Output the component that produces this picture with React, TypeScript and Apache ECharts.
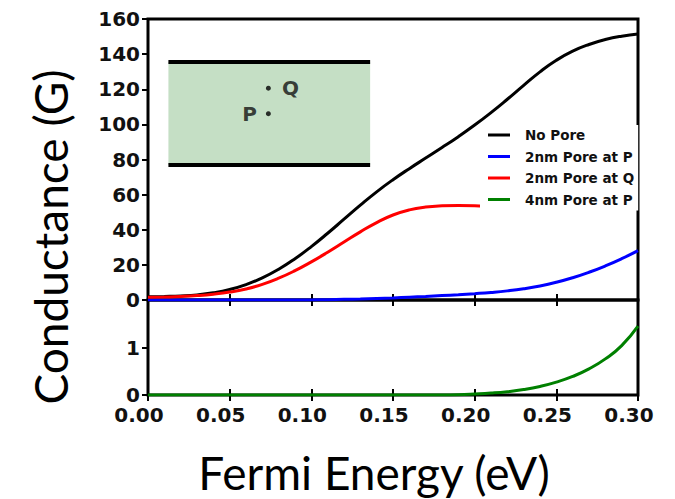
import React, { useEffect, useRef } from "react";
import * as echarts from "echarts";

// Fermi energy grid (eV)
const energy = [
  0.0, 0.01, 0.02, 0.03, 0.04, 0.05, 0.06, 0.07, 0.08, 0.09, 0.1, 0.11, 0.12, 0.13, 0.14, 0.15,
  0.16, 0.17, 0.18, 0.19, 0.2, 0.21, 0.22, 0.23, 0.24, 0.25, 0.26, 0.27, 0.28, 0.29, 0.3,
];

const noPore = [
  1.8, 2.0, 2.3, 2.9, 4.1, 6.0, 8.8, 12.6, 17.5, 23.5, 30.4, 38.0, 46.0, 54.0, 61.6, 68.5, 74.8,
  80.8, 86.8, 93.0, 99.6, 106.7, 114.3, 122.2, 129.9, 136.5, 141.7, 145.5, 148.3, 150.2, 151.4,
];

const pore2nmQ = [
  1.5, 1.7, 2.0, 2.5, 3.3, 4.5, 6.3, 8.9, 12.4, 16.7, 21.7, 27.2, 33.0, 38.8, 44.1, 48.4, 51.3,
  52.9, 53.6, 53.8, 53.7, 53.4, 53.1,
];

const pore2nmP = [
  0, 0, 0, 0, 0, 0, 0, 0, 0, 0, 0, 0.2, 0.4, 0.6, 0.9, 1.2, 1.6, 2.0, 2.5, 3.0, 3.6, 4.3, 5.2, 6.4,
  8.0, 10.1, 12.7, 15.8, 19.4, 23.5, 28.1,
];

const pore4nmP = [
  0, 0, 0, 0, 0, 0, 0, 0, 0, 0, 0, 0, 0, 0, 0, 0, 0, 0, 0, 0.005, 0.02, 0.04, 0.07, 0.115, 0.18,
  0.27, 0.39, 0.55, 0.76, 1.04, 1.45,
];

const seriesNames = ["No Pore", "2nm Pore at P", "2nm Pore at Q", "4nm Pore at P"];

// inset sketch (data coordinates of the upper panel)
const insetX = [0.0125, 0.136];
const insetY = [76.9, 135.7];
const insetPoints: [number, number, string][] = [
  [0.0737, 120.6, "Q"],
  [0.0737, 106.1, "P"],
];

const toPairs = (vals: number[]) => vals.map((v, i) => [energy[i], v]);

const TICK_FONT = "DejaVu Sans";

export default function App() {
  const ref = useRef<HTMLDivElement>(null);

  useEffect(() => {
    if (!ref.current) return;
    const chart = echarts.init(ref.current, undefined, { renderer: "svg" });

    const tickStyle = { lineStyle: { color: "#000", width: 2 } };
    const baseX = {
      type: "value" as const,
      min: 0,
      max: 0.3,
      interval: 0.05,
      axisLine: { show: false },
      splitLine: { show: false },
    };

    const lineSeries = (name: string, data: number[], color: string, xi: number, yi: number) => ({
      name,
      type: "line",
      xAxisIndex: xi,
      yAxisIndex: yi,
      data: toPairs(data),
      smooth: 0.5,
      symbol: "none",
      color,
      lineStyle: { width: 3, color },
      z: 3,
    });

    chart.setOption({
      animation: false,
      backgroundColor: "#fff",
      grid: [
        { left: 148, top: 19, width: 490, height: 281, show: true, borderColor: "#000", borderWidth: 3, backgroundColor: "transparent" },
        { left: 148, top: 300, width: 490, height: 95, show: true, borderColor: "#000", borderWidth: 3, backgroundColor: "transparent" },
      ],
      xAxis: [
        { ...baseX, gridIndex: 0, position: "bottom", axisTick: { inside: true, length: 6, ...tickStyle }, axisLabel: { show: false } },
        { ...baseX, gridIndex: 0, position: "top", axisTick: { inside: true, length: 6, ...tickStyle }, axisLabel: { show: false } },
        {
          ...baseX,
          gridIndex: 1,
          position: "bottom",
          axisTick: { inside: true, length: 6, ...tickStyle },
          axisLabel: {
            show: true,
            margin: 11,
            color: "#111",
            fontFamily: TICK_FONT,
            fontWeight: "bold",
            fontSize: 20,
            lineHeight: 18,
            padding: [0, 18, 0, 0],
            formatter: (v: number) => v.toFixed(2),
          },
        },
        { ...baseX, gridIndex: 1, position: "top", axisTick: { inside: true, length: 6, ...tickStyle }, axisLabel: { show: false } },
      ],
      yAxis: [
        {
          type: "value",
          gridIndex: 0,
          position: "left",
          min: 0,
          max: 160,
          interval: 20,
          axisLine: { show: false },
          splitLine: { show: false },
          axisTick: { inside: false, length: 6, ...tickStyle },
          axisLabel: { margin: 8, color: "#111", fontFamily: TICK_FONT, fontWeight: "bold", fontSize: 20, lineHeight: 20 },
        },
        {
          type: "value",
          gridIndex: 0,
          position: "right",
          min: 0,
          max: 160,
          interval: 20,
          axisLine: { show: false },
          splitLine: { show: false },
          axisTick: { inside: true, length: 6, ...tickStyle },
          axisLabel: { show: false },
        },
        {
          type: "value",
          gridIndex: 1,
          position: "left",
          min: 0,
          max: 2,
          interval: 1,
          axisLine: { show: false },
          splitLine: { show: false },
          axisTick: { inside: false, length: 6, ...tickStyle },
          axisLabel: {
            margin: 8,
            color: "#111",
            fontFamily: TICK_FONT,
            fontWeight: "bold",
            fontSize: 20,
            lineHeight: 18,
            formatter: (v: number) => (v === 2 ? "" : String(v)),
          },
        },
        {
          type: "value",
          gridIndex: 1,
          position: "right",
          min: 0,
          max: 2,
          interval: 1,
          axisLine: { show: false },
          splitLine: { show: false },
          axisTick: { inside: true, length: 6, ...tickStyle },
          axisLabel: { show: false },
        },
      ],
      legend: {
        orient: "vertical",
        left: 480,
        top: 125,
        data: seriesNames,
        backgroundColor: "#fff",
        padding: [3, 4, 4, 8],
        icon: "rect",
        itemWidth: 22,
        itemHeight: 3,
        itemGap: 7.5,
        textStyle: {
          fontFamily: TICK_FONT,
          fontWeight: "bold",
          fontSize: 13.5,
          color: "#111",
          lineHeight: 14,
          padding: [0, 0, 0, 10],
        },
        z: 10,
      },
      graphic: [
        {
          type: "text",
          x: 50,
          y: 237,
          rotation: Math.PI / 2,
          style: {
            text: "Conductance (G)",
            fontFamily: "Lato",
            fontSize: 46,
            fill: "#000",
            align: "center",
            verticalAlign: "middle",
          },
        },
        {
          type: "text",
          x: 374,
          y: 472,
          style: {
            text: "Fermi Energy (eV)",
            fontFamily: "Lato",
            fontSize: 46,
            lineHeight: 46,
            fill: "#000",
            align: "center",
            verticalAlign: "middle",
          },
        },
      ],
      series: [
        lineSeries(seriesNames[0], noPore, "#000000", 0, 0),
        lineSeries(seriesNames[1], pore2nmP, "#0000ff", 0, 0),
        lineSeries(seriesNames[2], pore2nmQ, "#ff0000", 0, 0),
        lineSeries(seriesNames[3], pore4nmP, "#008000", 2, 2),
        {
          name: "inset",
          type: "scatter",
          xAxisIndex: 0,
          yAxisIndex: 0,
          silent: true,
          symbolSize: 5,
          itemStyle: { color: "#000" },
          data: insetPoints.map((p) => ({
            value: [p[0], p[1]],
            label: {
              show: true,
              formatter: p[2],
              position: p[2] === "Q" ? "right" : "left",
              distance: p[2] === "Q" ? 11 : 9,
              fontFamily: TICK_FONT,
              fontWeight: "bold",
              fontSize: 20,
              color: "#111",
            },
          })),
          markArea: {
            silent: true,
            itemStyle: { color: "#c5dfc5" },
            data: [[{ coord: [insetX[0], insetY[0]] }, { coord: [insetX[1], insetY[1]] }]],
          },
          markLine: {
            silent: true,
            symbol: "none",
            label: { show: false },
            lineStyle: { color: "#000", width: 4, type: "solid" },
            data: insetY.map((y) => [{ coord: [insetX[0], y] }, { coord: [insetX[1], y] }]),
          },
          z: 2,
        },
      ],
    });

    return () => chart.dispose();
  }, []);

  return (
    <div
      ref={ref}
      style={{ position: "fixed", left: 0, top: 0, width: 675, height: 499 }}
    />
  );
}
